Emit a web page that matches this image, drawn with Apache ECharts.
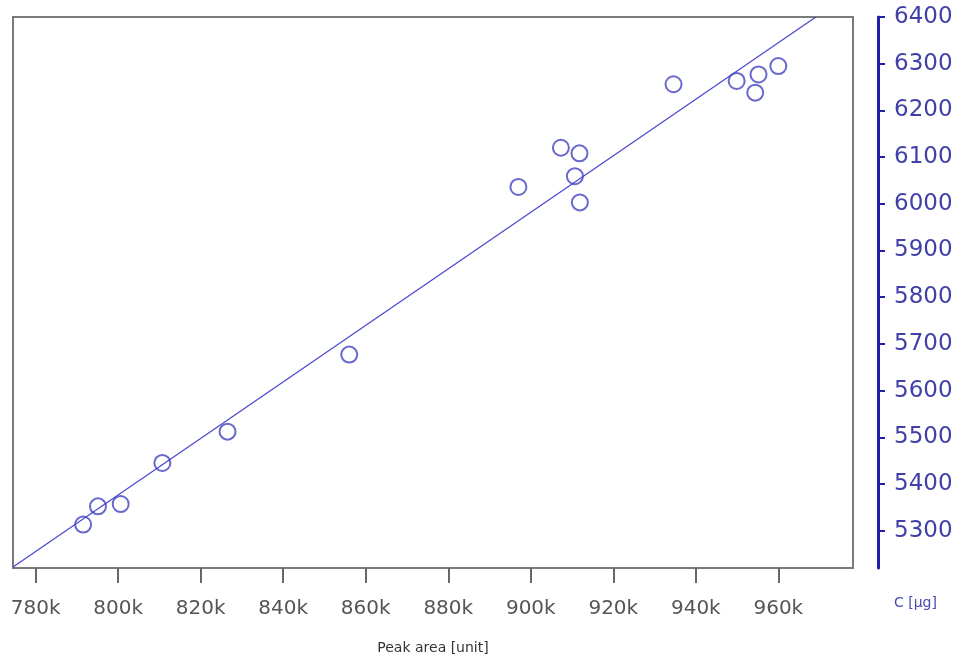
<!DOCTYPE html>
<html>
<head>
<meta charset="utf-8">
<script src="https://cdn.jsdelivr.net/npm/echarts@6/dist/echarts.min.js"></script>
<style>html,body{margin:0;padding:0;background:#fff;}#c{width:963px;height:660px;}</style>
</head>
<body>
<div id="c"></div>
<script>
// Data
var peakArea = [791500, 795100, 800600, 810700, 826500, 856000, 897000, 907300, 911800, 910700, 911900, 934600, 949900, 954400, 955200, 960000];
var concentration = [5313, 5352, 5357, 5445, 5512, 5677, 6036, 6120, 6108, 6059, 6003, 6256, 6263, 6238, 6277, 6295];
var fitX = [774500, 969100];
var fitY = [5222, 6400];
var xTicks = [780000, 800000, 820000, 840000, 860000, 880000, 900000, 920000, 940000, 960000];
var yTicks = [5300, 5400, 5500, 5600, 5700, 5800, 5900, 6000, 6100, 6200, 6300, 6400];
var xTitle = 'Peak area [unit]';
var yTitle = 'C [µg]';

var points = peakArea.map(function (x, i) { return [x, concentration[i]]; });
var fitLine = fitX.map(function (x, i) { return [x, fitY[i]]; });

var chart = echarts.init(document.getElementById('c'), null, {renderer: 'canvas'});
chart.setOption({
  animation: false,
  backgroundColor: '#ffffff',
  grid: {left: 13, right: 110, top: 17, bottom: 92, show: true, borderColor: '#7a7a7a', borderWidth: 2,
    backgroundColor: 'transparent', containLabel: false, outerBoundsMode: 'none'},
  xAxis: {
    type: 'value', min: 774500, max: 978100,
    name: xTitle, nameLocation: 'middle', nameGap: 73,
    nameTextStyle: {fontFamily: 'DejaVu Sans', fontSize: 14, color: '#333'},
    axisLine: {show: false},
    splitLine: {show: false},
    axisTick: {show: true, inside: false, length: 15, customValues: xTicks, lineStyle: {color: '#666', width: 2}},
    axisLabel: {customValues: xTicks, margin: 31, fontFamily: 'DejaVu Sans', fontSize: 20, color: '#555',
      formatter: function (v) { return Math.round(v / 1000) + 'k'; }}
  },
  yAxis: {
    type: 'value', position: 'right', offset: 25, min: 5220, max: 6400,
    name: yTitle, nameLocation: 'start', nameGap: 28,
    nameTextStyle: {fontFamily: 'DejaVu Sans', fontSize: 14, color: '#4a4ab0', align: 'left', padding: [0, 0, 0, 16]},
    axisLine: {show: true, lineStyle: {color: '#1f1fa8', width: 3}},
    splitLine: {show: false},
    axisTick: {show: true, inside: false, length: 7, customValues: yTicks, lineStyle: {color: '#1f1fa8', width: 2}},
    axisLabel: {customValues: yTicks, margin: 16, fontFamily: 'DejaVu Sans', fontSize: 23, color: '#4040a8',
      formatter: function (v) { return String(v); }}
  },
  series: [
    {
      type: 'line', data: fitLine, showSymbol: false, clip: true,
      lineStyle: {color: '#4b4bd0', width: 1.3}, z: 2
    },
    {
      type: 'scatter', data: points, symbol: 'circle', symbolSize: 16,
      itemStyle: {color: 'rgba(0,0,0,0)', borderColor: '#4242c0', borderWidth: 2}, z: 3
    }
  ]
});
</script>
</body>
</html>
